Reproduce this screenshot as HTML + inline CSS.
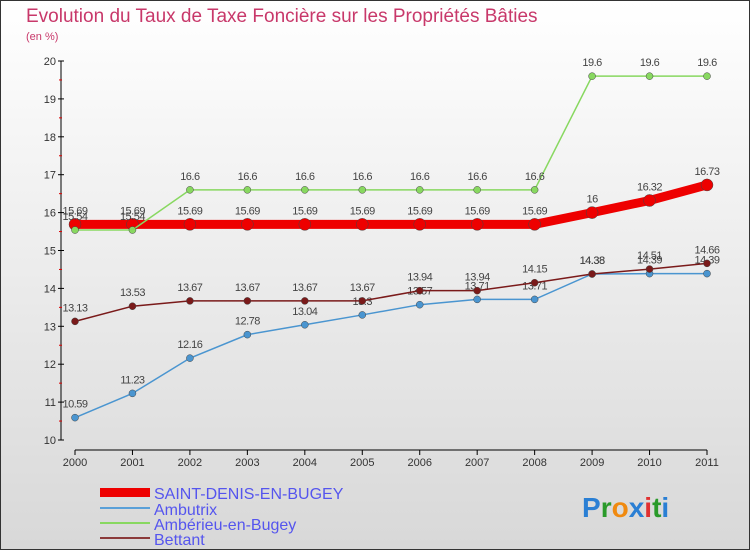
<!DOCTYPE html>
<html><head><meta charset="utf-8"><style>
body{margin:0;}
#wrap{width:748px;height:548px;border:1px solid #333;background:linear-gradient(#ffffff,#d8d8d8);position:relative;overflow:hidden;font-family:"Liberation Sans",sans-serif;}
svg text{font-family:"Liberation Sans",sans-serif;}
</style></head><body>
<div id="wrap">
<svg id="chart" width="750" height="550" style="position:absolute;left:-1px;top:-1px">
<text x="26" y="22" font-size="19" fill="#c8386a">Evolution du Taux de Taxe Foncière sur les Propriétés Bâties</text>
<text x="26" y="40" font-size="11" fill="#c8386a">(en %)</text>
<g id="axes"></g><g id="series"></g>
<g>
<rect x="100" y="488" width="50" height="9" fill="#ee0000"/>
<text x="154" y="499" font-size="16" fill="#5555ee">SAINT-DENIS-EN-BUGEY</text>
<line x1="100" y1="508" x2="150" y2="508" stroke="#5aa0d8" stroke-width="2"/>
<text x="154" y="515" font-size="16" fill="#5555ee">Ambutrix</text>
<line x1="100" y1="523" x2="150" y2="523" stroke="#88d860" stroke-width="2"/>
<text x="154" y="530" font-size="16" fill="#5555ee">Ambérieu-en-Bugey</text>
<line x1="100" y1="538" x2="150" y2="538" stroke="#8b3a3a" stroke-width="2"/>
<text x="154" y="545" font-size="16" fill="#5555ee">Bettant</text>
</g>
<g font-size="28" font-weight="bold">
<text x="582" y="517"><tspan fill="#2a7fd4">P</tspan><tspan fill="#2a9a2a">r</tspan><tspan fill="#f08a10">o</tspan><tspan fill="#2a7fd4">x</tspan><tspan fill="#e03030">i</tspan><tspan fill="#2a9a2a">t</tspan><tspan fill="#2a7fd4">i</tspan></text>
</g>
</svg>
</div>
<script>
const years=["2000","2001","2002","2003","2004","2005","2006","2007","2008","2009","2010","2011"];
const yTicks=[10,11,12,13,14,15,16,17,18,19,20];
const saintDenis=[15.69,15.69,15.69,15.69,15.69,15.69,15.69,15.69,15.69,16,16.32,16.73];
const ambutrix=[10.59,11.23,12.16,12.78,13.04,13.3,13.57,13.71,13.71,14.38,14.39,14.39];
const amberieu=[15.54,15.54,16.6,16.6,16.6,16.6,16.6,16.6,16.6,19.6,19.6,19.6];
const bettant=[13.13,13.53,13.67,13.67,13.67,13.67,13.94,13.94,14.15,14.38,14.51,14.66];
const NS="http://www.w3.org/2000/svg";
const xs=i=>75+i*(707-75)/(years.length-1);
const ys=v=>440-(v-10)*(440-61)/10;
function mk(t,a,p){const e=document.createElementNS(NS,t);for(const k in a)e.setAttribute(k,a[k]);p.appendChild(e);return e;}
const ax=document.getElementById('axes');
const yl=mk('line',{x1:61,y1:61,x2:61,y2:440,stroke:'#000'},ax);


const xl=mk('line',{x1:75,y1:450,x2:707,y2:450,stroke:'#000'},ax);


yTicks.forEach(v=>{
 mk('line',{x1:58,y1:ys(v),x2:64,y2:ys(v),stroke:'#000'},ax);
 if(v<20) mk('line',{x1:59,y1:ys(v+0.5),x2:62,y2:ys(v+0.5),stroke:'#d00'},ax);
 const t=mk('text',{x:56,y:ys(v)+4,'font-size':11,fill:'#333','text-anchor':'end'},ax);t.textContent=v;
 
 
});
years.forEach((y,i)=>{
 mk('line',{x1:xs(i),y1:450,x2:xs(i),y2:455,stroke:'#000'},ax);
 const t=mk('text',{x:xs(i),y:466,'font-size':11,fill:'#333','text-anchor':'middle'},ax);t.textContent=y;
 
 
});
const sg=document.getElementById('series');
function series(name,data,color,w,r){
 const g=mk('g',{},sg);
 
 
 const pl=mk('polyline',{points:data.map((v,i)=>xs(i)+','+ys(v)).join(' '),fill:'none',stroke:color,'stroke-width':w},g);
 
 
 data.forEach((v,i)=>{
  const c=mk('circle',{cx:xs(i),cy:ys(v),r:r,fill:color,stroke:'#444','stroke-width':0.5},g);
  
  
  const t=mk('text',{x:xs(i),y:ys(v)-10,'font-size':11,fill:'#444','text-anchor':'middle','letter-spacing':'-0.5'},g);t.textContent=v;
  
  
 });
}
series('saint-denis',saintDenis,'#ee0000',9,6);
series('amberieu',amberieu,'#88d860',1.5,3.5);
series('ambutrix',ambutrix,'#4a95d0',1.5,3.5);
series('bettant',bettant,'#7a1a1a',1.5,3.5);
</script>
</body></html>
